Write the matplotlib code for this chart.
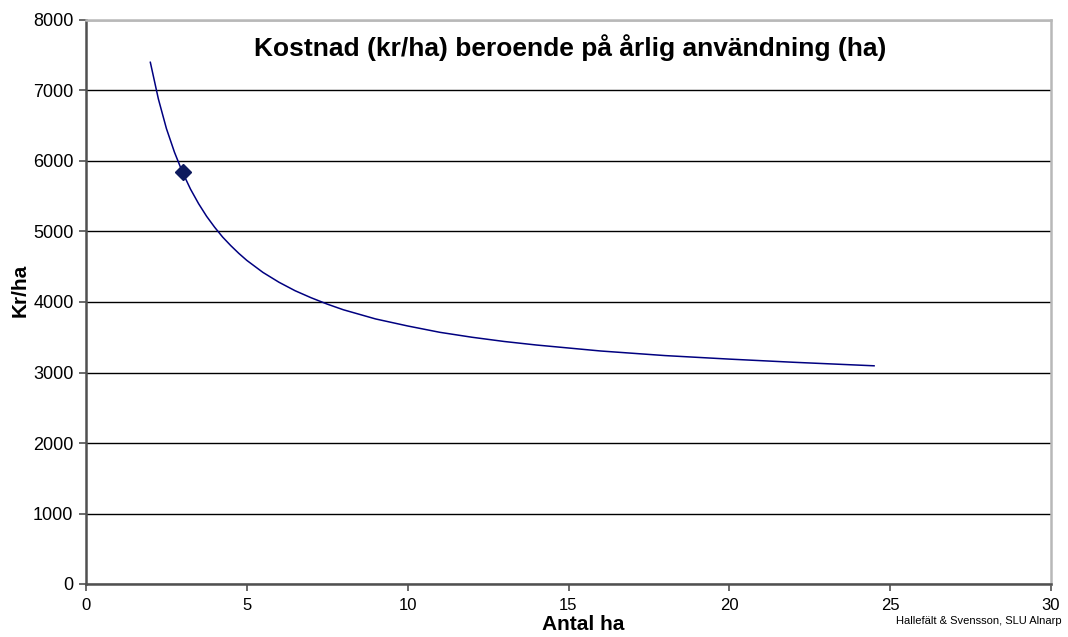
import matplotlib.pyplot as plt

plt.rcParams['font.family'] = ['Liberation Sans', 'DejaVu Sans']

# kostnad per hektar vid olika årlig användning
ha = [2, 2.25, 2.5, 2.75, 3, 3.25, 3.5, 3.75, 4, 4.25, 4.5, 4.75, 5, 5.5, 6,
      6.5, 7, 7.5, 8, 9, 10, 11, 12, 13, 14, 16, 18, 20, 22, 24.5]
kr_per_ha = [7400, 6880, 6460, 6125, 5840, 5600, 5395, 5215, 5060, 4920, 4800,
             4690, 4590, 4420, 4280, 4160, 4060, 3970, 3890, 3760, 3660, 3570,
             3500, 3440, 3390, 3305, 3240, 3190, 3145, 3095]

# aktuell punkt
punkt_ha = [3]
punkt_kr = [5840]

W, H = 1068, 637
fig = plt.figure(figsize=(W / 100, H / 100), dpi=100)
ax = fig.add_axes([86 / W, 1 - 584 / H, (1051 - 86) / W, (584 - 20) / H])

ax.plot(ha, kr_per_ha, color='#000080', lw=1.1, zorder=3,
        solid_joinstyle='round')
ax.plot(punkt_ha, punkt_kr, 'D', color='#0d1a5e', markersize=8.5, zorder=4)

ax.set_xlim(0, 30)
ax.set_ylim(0, 8000)
ax.set_xticks(range(0, 31, 5))
ax.set_yticks(range(0, 8001, 1000))
ax.yaxis.grid(True, color='black', lw=1.0)
ax.set_axisbelow(True)

for s in ['top', 'right']:
    ax.spines[s].set_color('#b8b8b8')
    ax.spines[s].set_linewidth(1.8)
for s in ['left', 'bottom']:
    ax.spines[s].set_color('#505050')
    ax.spines[s].set_linewidth(1.8)
ax.tick_params(axis='both', direction='out', length=5, width=1.2, color='#505050')
ax.tick_params(axis='x', labelsize=12, pad=5)
ax.tick_params(axis='y', labelsize=13, pad=4)

fig.text(570 / W, 1 - 48 / H, 'Kostnad (kr/ha) beroende på årlig användning (ha)',
         fontsize=19, fontweight='bold', ha='center', va='center')
fig.text(583 / W, 1 - 624 / H, 'Antal ha', fontsize=15, fontweight='bold',
         ha='center', va='center')
fig.text(20 / W, 1 - 290 / H, 'Kr/ha', fontsize=15, fontweight='bold',
         ha='center', va='center', rotation=90)

fig.text(0.994, 0.017, 'Hallefält & Svensson, SLU Alnarp', fontsize=8,
         ha='right', va='bottom')

fig.savefig('out.png', dpi=100)
